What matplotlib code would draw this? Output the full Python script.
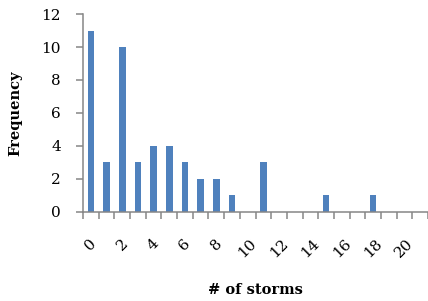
import matplotlib
matplotlib.use('Agg')
import matplotlib.pyplot as plt
import numpy as np

# число штормов и частота
storms = list(range(22))
freq = [11, 3, 10, 3, 4, 4, 3, 2, 2, 1, 0, 3, 0, 0, 0, 1, 0, 0, 1, 0, 0, 0]
tick_labels = [str(s) for s in storms[::2]]

plt.rcParams['font.family'] = ['DejaVu Serif']
plt.rcParams['font.size'] = 11

fig = plt.figure(figsize=(4.28, 3.01), dpi=100)
ax = fig.add_axes([0.194, 0.297, 0.806, 0.656])

ax.bar(storms, freq, width=0.43, color='#4F81BD')

ax.set_xlim(-0.5, len(storms) - 0.5)
ax.set_ylim(0, 12)
ax.set_yticks(np.arange(0, 13, 2))

# подписи по центрам категорий, риски между ними
ax.set_xticks(storms[::2])
ax.set_xticklabels(tick_labels, rotation=45, ha='center', va='top')
ax.set_xticks(np.arange(-0.5, len(storms), 1), minor=True)
ax.tick_params(axis='x', which='major', length=0, pad=18)
ax.tick_params(axis='x', which='minor', length=5, width=1.1, color='#868686')
ax.tick_params(axis='y', length=5, width=1.1, color='#868686', pad=11)

for side in ['top', 'right']:
    ax.spines[side].set_visible(False)
for side in ['left', 'bottom']:
    ax.spines[side].set_color('#868686')
    ax.spines[side].set_linewidth(1.1)

ax.set_xlabel('# of storms', fontweight='bold', fontsize=10.5, labelpad=16)
ax.set_ylabel('Frequency', fontweight='bold', fontsize=10.5, labelpad=14)

fig.savefig('out.png', dpi=100)
